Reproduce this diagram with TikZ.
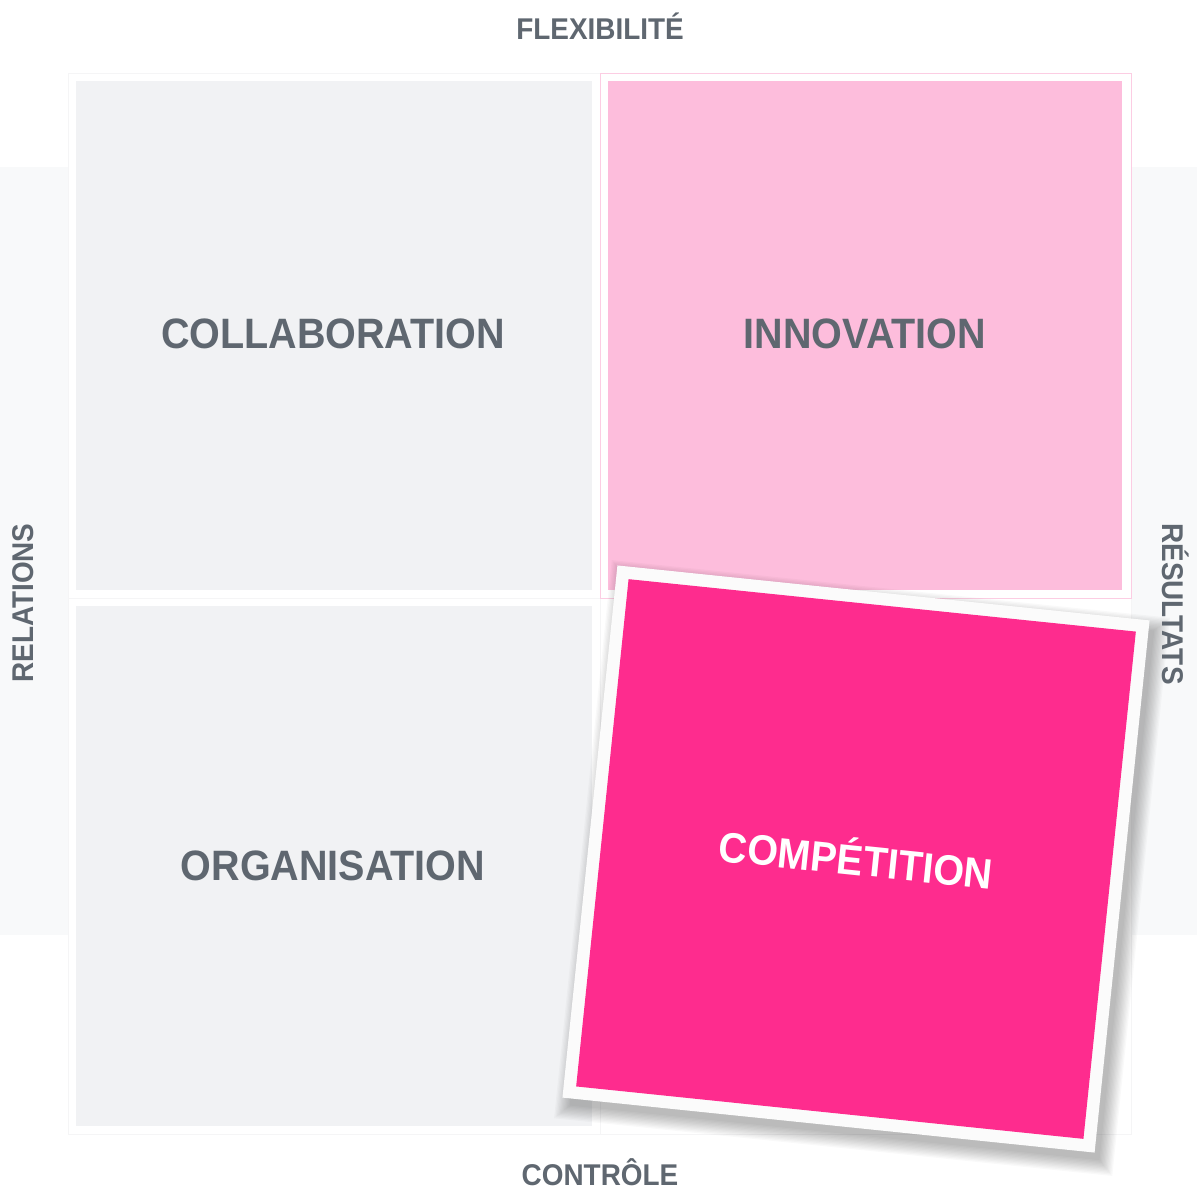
\documentclass[tikz,border=0pt]{standalone}
\usepackage{fontspec}
\setmainfont{Liberation Sans}
\newfontfamily\quadfont[FakeStretch=0.93]{Liberation Sans}
\newfontfamily\axisfont[FakeStretch=0.93]{Liberation Sans}
\definecolor{labgray}{RGB}{95,103,112}
\definecolor{quadgray}{RGB}{241,242,244}
\definecolor{stripgray}{RGB}{248,249,250}
\definecolor{cardline}{RGB}{245,245,246}
\definecolor{lightpink}{RGB}{253,189,220}
\definecolor{pinkline}{RGB}{252,205,227}
\definecolor{hotpink}{RGB}{254,44,142}
\definecolor{framewhite}{RGB}{251,251,251}
\tikzset{
  quadlabel/.style={font=\quadfont\bfseries\fontsize{42.5}{42.5}\selectfont, text=labgray,
    inner sep=0pt, text height=30.4pt, text depth=0pt, anchor=center},
  axislabel/.style={font=\axisfont\bfseries\fontsize{30}{30}\selectfont, text=labgray,
    inner sep=0pt, text height=21.5pt, text depth=0pt, anchor=center},
  card/.style={fill=white, draw=cardline, line width=0.6pt},
}
\begin{document}
\begin{tikzpicture}[x=1pt, y=-1pt]
\useasboundingbox (0,0) rectangle (1197,1189);
\fill[white] (0,0) rectangle (1197,1189);
% side strips
\fill[stripgray] (0,167) rectangle (68,935);
\fill[stripgray] (1131,167) rectangle (1197,935);
% cards
\draw[card] (68,73) rectangle (600,598);
\draw[card] (68,598) rectangle (600,1134);
\draw[card] (600,598) rectangle (1131,1134);
\draw[fill=white, draw=pinkline, line width=0.6pt] (600,73) rectangle (1131,598);
% quadrants
\fill[quadgray] (76,81) rectangle (592,590);
\fill[lightpink] (608,81) rectangle (1122,590);
\fill[quadgray] (76,606) rectangle (592,1126);
% shadow of rotated card
\begin{scope}[shift={(862,868)}, rotate=-5.9]
  \foreach \i in {1,...,12}{
    \fill[black, opacity=0.022] ({-265-\i*1.3},{-265-\i*1.3}) rectangle ({265+\i*1.3},{265+\i*1.3});
  }
\end{scope}
% rotated card
\begin{scope}[shift={(856,859)}, rotate=-5.9]
  \fill[framewhite] (-267.5,-267.5) rectangle (267.5,267.5);
  \fill[hotpink] (-255,-255) rectangle (255,255);
\end{scope}
% quadrant labels
\node[quadlabel] (collab) at (333,333) {COLLABORATION};
\node[quadlabel] (innov) at (865,333) {INNOVATION};
\node[quadlabel] (organ) at (333,865) {ORGANISATION};
\node[quadlabel, text=white, rotate=-5.9] (compet) at (856,860) {COMPÉTITION};
% axis labels
\node[axislabel] (flex) at (600,29) {FLEXIBILITÉ};
\node[axislabel] (ctrl) at (600,1175) {CONTRÔLE};
\node[axislabel, rotate=90] (rel) at (23,603) {RELATIONS};
\node[axislabel, rotate=-90] (res) at (1173,604) {RÉSULTATS};
\end{tikzpicture}
\end{document}
